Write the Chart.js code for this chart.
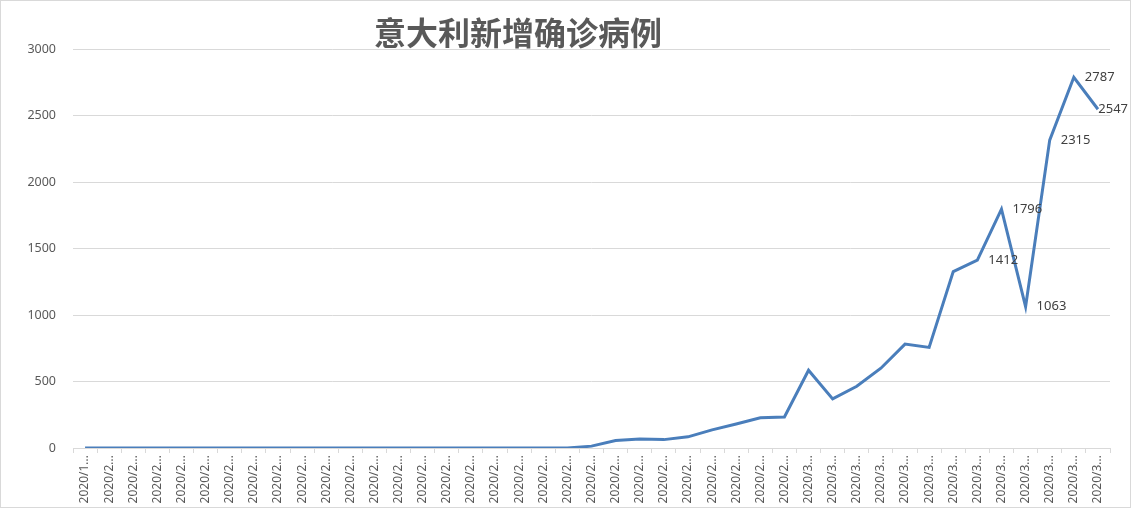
<!DOCTYPE html>
<html>
<head>
<meta charset="utf-8">
<script src="https://cdn.jsdelivr.net/npm/chart.js@4.4.1/dist/chart.umd.min.js"></script>
<style>
	html, body { margin: 0; padding: 0; background: #fff; }
	#box { position: absolute; left: 0; top: 0; width: 1129px; height: 506px; border: 1px solid #d9d9d9; }
	#chartItaly { display: block; }
</style>
</head>
<body>
<div id="box"><canvas id="chartItaly" width="1129" height="506"></canvas></div>
<script>
// 날짜 (x축)
const dateLabels = [
	"2020/1/31",
	"2020/2/1", "2020/2/2", "2020/2/3", "2020/2/4", "2020/2/5", "2020/2/6", "2020/2/7",
	"2020/2/8", "2020/2/9", "2020/2/10", "2020/2/11", "2020/2/12", "2020/2/13", "2020/2/14",
	"2020/2/15", "2020/2/16", "2020/2/17", "2020/2/18", "2020/2/19", "2020/2/20", "2020/2/21",
	"2020/2/22", "2020/2/23", "2020/2/24", "2020/2/25", "2020/2/26", "2020/2/27", "2020/2/28",
	"2020/2/29",
	"2020/3/1", "2020/3/2", "2020/3/3", "2020/3/4", "2020/3/5", "2020/3/6", "2020/3/7",
	"2020/3/8", "2020/3/9", "2020/3/10", "2020/3/11", "2020/3/12", "2020/3/13"
];

// 신규 확진자 수
const newCases = [
	0,
	0, 0, 0, 0, 0, 0, 0,
	0, 0, 0, 0, 0, 0, 0,
	0, 0, 0, 0, 0, 0, 14,
	57, 68, 63, 84, 136, 180, 227,
	233,
	585, 369, 464, 600, 781, 756, 1326,
	1412, 1796, 1063, 2315, 2787, 2547
];

// 값 표시할 점 (마지막 6개)
const labeledPoints = [37, 38, 39, 40, 41, 42];

const yTicks = [0, 500, 1000, 1500, 2000, 2500, 3000];

const chartTitle = "意大利新增确诊病例";

// 제목 (왼쪽으로 치우친 위치)
const titlePlugin = {
	id: "titleText",
	afterDraw: function(chart) {
		let ctx = chart.ctx;
		ctx.save();
		ctx.font = "bold 32px 'Noto Sans CJK SC'";
		ctx.fillStyle = "#595959";
		ctx.textAlign = "center";
		ctx.textBaseline = "middle";
		ctx.fillText(chartTitle, 517, 32);
		ctx.restore();
	}
};

// 데이터 라벨
const valuePlugin = {
	id: "valueText",
	afterDatasetsDraw: function(chart) {
		let ctx = chart.ctx;
		let meta = chart.getDatasetMeta(0);
		ctx.save();
		ctx.font = "13px 'Noto Sans'";
		ctx.fillStyle = "#404040";
		ctx.textAlign = "left";
		ctx.textBaseline = "middle";
		labeledPoints.forEach(function(i) {
			let pt = meta.data[i];
			let txt = String(newCases[i]);
			let w = ctx.measureText(txt).width;
			let x = pt.x + 11;
			if (x + w > chart.width - 2) {
				x = chart.width - 2 - w;
			}
			ctx.fillText(txt, x, pt.y);
		});
		ctx.restore();
	}
};

var ctx = document.getElementById("chartItaly").getContext("2d");
var italyChart = new Chart(ctx, {
	type: "line",
	data: {
		labels: dateLabels,
		datasets: [{
			label: "新增确诊",
			data: newCases,
			borderColor: "#4a7ebb",
			borderWidth: 3,
			pointRadius: 0,
			tension: 0,
			fill: false
		}]
	},
	options: {
		responsive: false,
		animation: false,
		layout: {
			padding: { top: 48, right: 20, bottom: 0, left: 0 }
		},
		scales: {
			x: {
				offset: true,
				grid: {
					offset: true,
					drawOnChartArea: false,
					color: "#d9d9d9",
					tickLength: 5
				},
				border: { color: "#d9d9d9" },
				ticks: {
					autoSkip: false,
					maxRotation: 90,
					minRotation: 90,
					padding: 2,
					color: "#595959",
					font: { family: "'Noto Sans'", size: 12 },
					callback: function(value) {
						let s = this.getLabelForValue(value);
						return s.length > 6 ? s.substring(0, 6) + "..." : s;
					}
				},
				afterFit: function(scale) {
					scale.height = 59;
				}
			},
			y: {
				min: 0,
				max: 3000,
				afterBuildTicks: function(scale) {
					scale.ticks = yTicks.map(function(v) { return { value: v }; });
				},
				grid: {
					color: "#d9d9d9",
					drawTicks: false
				},
				border: { display: false },
				ticks: {
					padding: 17,
					color: "#595959",
					font: { family: "'Noto Sans'", size: 12.5 },
					callback: function(value) {
						return String(value);
					}
				},
				afterFit: function(scale) {
					scale.width = 72;
				}
			}
		},
		plugins: {
			legend: { display: false },
			tooltip: { enabled: false }
		}
	},
	plugins: [titlePlugin, valuePlugin]
});
</script>
</body>
</html>
